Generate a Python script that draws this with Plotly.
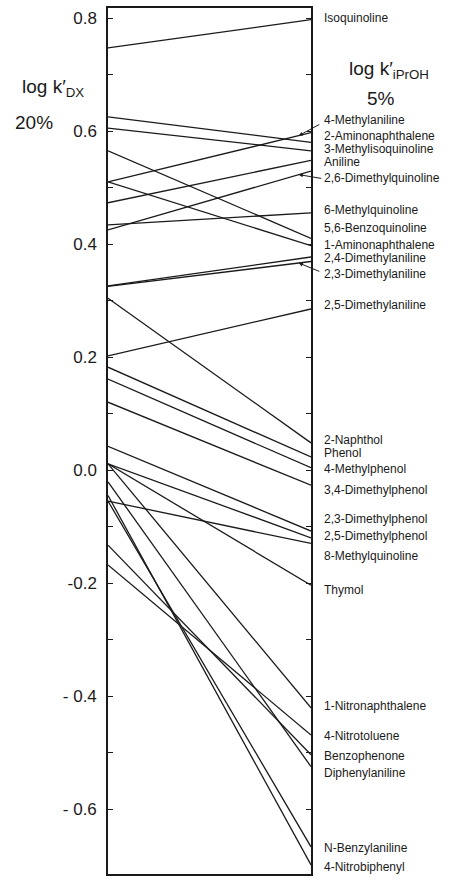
import plotly.graph_objects as go

# ---- data ----
compounds = [
    "Isoquinoline", "4-Methylaniline", "2-Aminonaphthalene", "3-Methylisoquinoline",
    "Aniline", "2,6-Dimethylquinoline", "6-Methylquinoline", "5,6-Benzoquinoline",
    "1-Aminonaphthalene", "2,4-Dimethylaniline", "2,3-Dimethylaniline",
    "2,5-Dimethylaniline", "2-Naphthol", "Phenol", "4-Methylphenol",
    "3,4-Dimethylphenol", "2,3-Dimethylphenol", "2,5-Dimethylphenol",
    "8-Methylquinoline", "Thymol", "1-Nitronaphthalene", "4-Nitrotoluene",
    "Benzophenone", "Diphenylaniline", "N-Benzylaniline", "4-Nitrobiphenyl",
]
logk_dx_20 = [
    0.747, 0.510, 0.625, 0.605,
    0.473, 0.425, 0.434, 0.565,
    0.510, 0.326, 0.325,
    0.202, 0.304, 0.182, 0.161,
    0.120, 0.042, 0.011,
    -0.055, 0.011, 0.011, -0.168,
    -0.133, -0.021, -0.055, -0.045,
]
logk_iproh_5 = [
    0.797, 0.597, 0.580, 0.565,
    0.548, 0.529, 0.455, 0.410,
    0.397, 0.377, 0.369,
    0.285, 0.048, 0.023, 0.004,
    -0.027, -0.108, -0.120,
    -0.130, -0.204, -0.421, -0.469,
    -0.504, -0.525, -0.667, -0.699,
]
# label vertical positions (text placement on the right side, in axis units)
label_y = [
    0.800, 0.620, 0.592, 0.568,
    0.545, 0.517, 0.460, 0.428,
    0.398, 0.375, 0.347,
    0.292, 0.053, 0.030, 0.002,
    -0.035, -0.087, -0.117,
    -0.153, -0.212, -0.418, -0.471,
    -0.506, -0.537, -0.669, -0.702,
]
tick_vals = [0.8, 0.7, 0.6, 0.5, 0.4, 0.3, 0.2, 0.1, 0.0, -0.1, -0.2, -0.3, -0.4, -0.5, -0.6]
tick_text = ["0.8", "", "0.6", "", "0.4", "", "0.2", "", "0.0", "", "-0.2", "", "- 0.4", "", "- 0.6"]

FONT = "Liberation Sans, Arial, sans-serif"
INK = "#1a1a1a"

fig = go.Figure()
for name, a, b in zip(compounds, logk_dx_20, logk_iproh_5):
    fig.add_trace(go.Scatter(x=[0, 1], y=[a, b], mode="lines",
                             line=dict(color=INK, width=1.3),
                             name=name, showlegend=False, hoverinfo="name"))

# compound labels on the right
for name, ly in zip(compounds, label_y):
    fig.add_annotation(x=1, y=ly, xref="x", yref="y", text=name, showarrow=False,
                       xanchor="left", yanchor="middle", xshift=11,
                       font=dict(family=FONT, size=12, color=INK))

# small pointer arrows (tip on the line, tail at the label)
for idx, ax, ay in [(1, 22, -12), (5, 24, 4), (10, 22, 9)]:
    t = 0.94
    ytip = logk_dx_20[idx] + (logk_iproh_5[idx] - logk_dx_20[idx]) * t
    fig.add_annotation(x=t, y=ytip, xref="x", yref="y", text="", showarrow=True,
                       ax=ax, ay=ay, arrowhead=2, arrowsize=0.8, arrowwidth=1,
                       arrowcolor=INK, standoff=0)

# axis titles
fig.add_annotation(x=0, y=1, xref="paper", yref="paper", text="log k′<sub>DX</sub>",
                   showarrow=False, xanchor="right", yanchor="middle",
                   xshift=-22, yshift=-80, font=dict(family=FONT, size=19, color=INK))
fig.add_annotation(x=0, y=1, xref="paper", yref="paper", text="20%",
                   showarrow=False, xanchor="right", yanchor="middle",
                   xshift=-53, yshift=-114, font=dict(family=FONT, size=19, color=INK))
fig.add_annotation(x=1, y=1, xref="paper", yref="paper", text="log k′<sub>iPrOH</sub>",
                   showarrow=False, xanchor="left", yanchor="middle",
                   xshift=36, yshift=-62, font=dict(family=FONT, size=19, color=INK))
fig.add_annotation(x=1, y=1, xref="paper", yref="paper", text="5%",
                   showarrow=False, xanchor="left", yanchor="middle",
                   xshift=54, yshift=-90, font=dict(family=FONT, size=19, color=INK))

fig.update_xaxes(range=[0, 1], showline=True, mirror=True, linecolor=INK, linewidth=1.5,
                 showgrid=False, zeroline=False, showticklabels=False, ticks="",
                 fixedrange=True)
fig.update_yaxes(range=[-0.715, 0.8177], showline=True, mirror="ticks", linecolor=INK,
                 linewidth=1.5, showgrid=False, zeroline=False,
                 tickmode="array", tickvals=tick_vals, ticktext=tick_text,
                 ticks="inside", ticklen=5, tickwidth=1.2, tickcolor=INK,
                 ticklabelstandoff=6,
                 tickfont=dict(family=FONT, size=17, color=INK), fixedrange=True)

fig.update_layout(width=464, height=881, margin=dict(l=108, r=153, t=8, b=7),
                  paper_bgcolor="white", plot_bgcolor="white", showlegend=False)

fig.write_html("out.html")
